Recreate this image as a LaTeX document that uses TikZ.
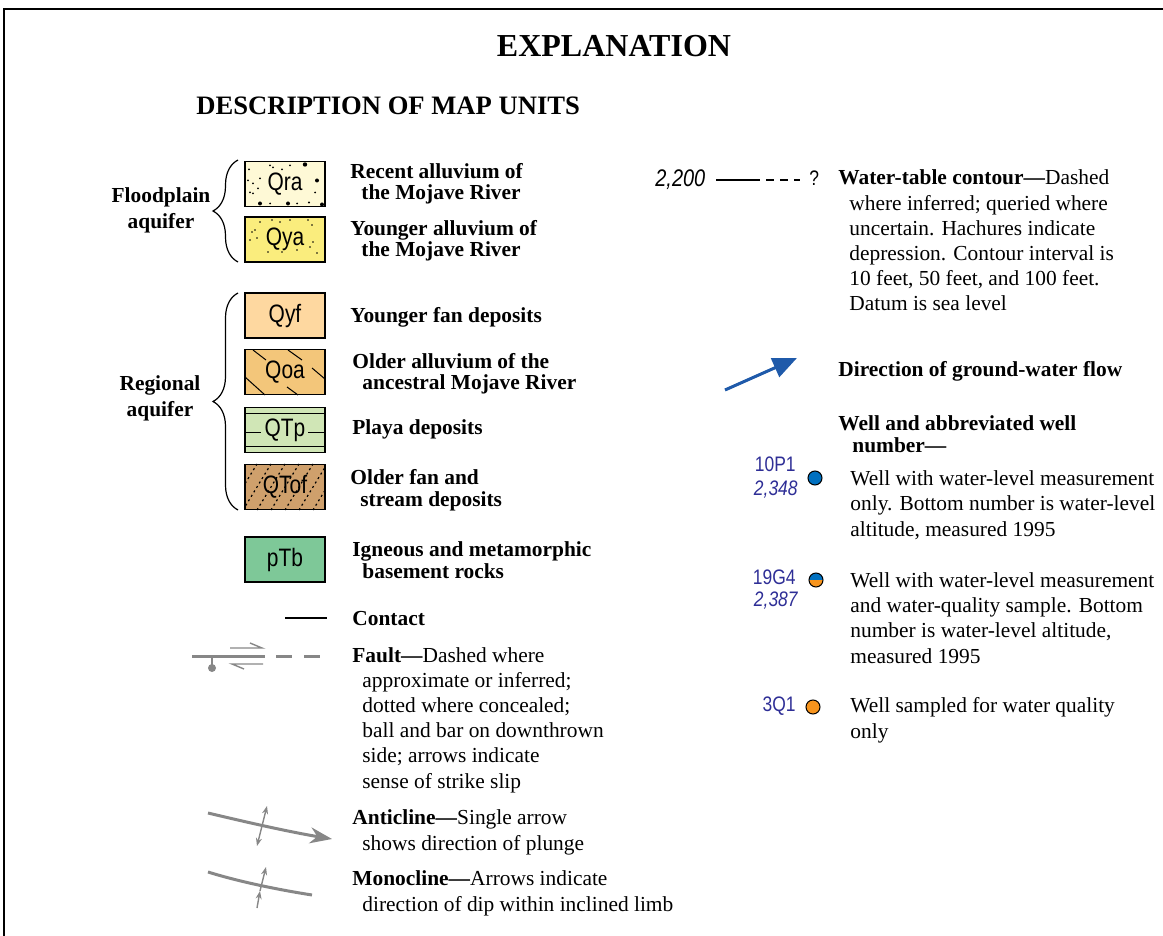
\documentclass[tikz,border=0pt]{standalone}
\usepackage{fontspec}
\setmainfont{Liberation Serif}
\newfontfamily\narrowsans[FakeStretch=0.83]{Liberation Sans}
\usetikzlibrary{arrows.meta,decorations.pathreplacing,positioning}

\definecolor{qracol}{RGB}{254,249,214}
\definecolor{qyacol}{RGB}{250,237,125}
\definecolor{qyfcol}{RGB}{254,216,160}
\definecolor{qoacol}{RGB}{243,198,122}
\definecolor{qtpcol}{RGB}{208,230,182}
\definecolor{qtofcol}{RGB}{207,160,108}
\definecolor{ptbcol}{RGB}{126,200,152}
\definecolor{faultgray}{RGB}{135,135,135}
\definecolor{flowblue}{RGB}{31,90,170}
\definecolor{wellblue}{RGB}{0,112,192}
\definecolor{wellorange}{RGB}{247,148,29}
\definecolor{numblue}{RGB}{46,46,150}

\tikzstyle{unit}=[draw, line width=0.6pt, minimum width=40pt, minimum height=22.5pt, inner sep=0pt, font=\fontsize{12.6}{13}\narrowsans]
\tikzstyle{unitname}=[anchor=base west, align=left, inner sep=0pt, font=\fontsize{10.7}{10.8}\selectfont\bfseries]
\tikzstyle{expl}=[anchor=base west, align=left, inner sep=0pt, font=\fontsize{10.7}{12.6}\selectfont]
\tikzstyle{wellnum}=[anchor=base east, inner sep=0pt, text=numblue, font=\fontsize{10.5}{11}\narrowsans]
\tikzstyle{well}=[circle, draw, line width=0.5pt, minimum size=7pt, inner sep=0pt]
\tikzstyle{graysym}=[faultgray, line width=1.5pt]
\tikzstyle{thinsym}=[faultgray, line width=0.7pt]
\tikzstyle{bracket}=[decorate, decoration={brace, amplitude=12.5pt}, line width=0.6pt]

\begin{document}
\begin{tikzpicture}[x=0.5pt, y=-0.5pt]
    \useasboundingbox (0,0) rectangle (1163,936);
    \draw[line width=0.8pt] (4,936) -- (4,9) -- (1163,9);

    \node[font=\fontsize{16}{18}\selectfont\bfseries] (title) at (614,46) {EXPLANATION};
    \node[anchor=base west, inner sep=0pt, font=\fontsize{13.3}{15}\selectfont\bfseries] (units) at (196,115) {DESCRIPTION OF MAP UNITS};

    % map units
    \node[unit, fill=qracol] (qra) at (285,184) {Qra};
    \node[unit, fill=qyacol] (qya) at (285,239.5) {Qya};
    \node[unit, fill=qyfcol] (qyf) at (285,315.5) {Qyf};
    \node[unit, fill=qoacol] (qoa) at (285,372) {Qoa};
    \node[unit, fill=qtpcol] (qtp) at (285,430) {QTp};
    \node[unit, fill=qtofcol] (qtof) at (285,487) {QTof};
    \node[unit, fill=ptbcol] (ptb) at (285,559.5) {pTb};

    % patterns
    \begin{scope}
        \clip (qra.north west) rectangle (qra.south east);
        \foreach \dx/\dy/\r in {3/19/0.5, 8/22/0.5, 15/17/0.5, 25/4/0.5, 28/6/0.5, 45/4/0.5, 60/3/1.1, 5/31/0.5, 8/32/0.5,
            13/27/0.5, 15/42/1, 25/42/0.5, 43/42/1, 52/42/0.5, 64/41/0.6, 77/43/1, 72/19/1, 70/31/0.5, 4/8/0.5, 37/8/0.5}
            \fill (245+\dx,161.5+\dy) circle (\r pt);
    \end{scope}
    \begin{scope}
        \clip (qya.north west) rectangle (qya.south east);
        \foreach \dx/\dy in {7/15, 10/13, 15/5, 27/3, 35/5, 45/3, 63/3, 67/8, 5/23, 12/21, 23/35, 37/35, 52/33, 65/30, 68/25, 72/36}
            \fill (245+\dx,217+\dy) circle (0.45pt);
    \end{scope}
    \begin{scope}[line width=0.5pt]
        \clip (qoa.north west) rectangle (qoa.south east);
        \draw (253,350) -- (266,360) (288,350) -- (302,360) (245,377) -- (265,395) (312,368) -- (325,379) (287,387) -- (298,395);
    \end{scope}
    \begin{scope}[line width=0.5pt]
        \draw (245,414) -- (325,414) (245,447) -- (325,447) (245,433) -- (261,433) (308,433) -- (325,433);
    \end{scope}
    \begin{scope}[line width=0.6pt]
        \clip (qtof.north west) rectangle (qtof.south east);
        \foreach \s in {215,229,...,335}
            \draw[dash pattern=on 1pt off 1.6pt] (\s,510) -- ++(28,-46);
    \end{scope}

    % aquifer groups
    \draw[bracket] (238,262) -- (238,160);
    \draw[bracket] (238,510) -- (238,293);
    \node[align=center, font=\fontsize{10.7}{13}\selectfont\bfseries] (flood) at (161,210) {Floodplain\\aquifer};
    \node[align=center, font=\fontsize{10.7}{13}\selectfont\bfseries] (regional) at (160,398) {Regional\\aquifer};

    \node[unitname] (qratext) at (350,200) {Recent alluvium of\\\hspace*{5.5pt}the Mojave River};
    \node[unitname] (qyatext) at (350,257) {Younger alluvium of\\\hspace*{5.5pt}the Mojave River};
    \node[unitname] (qyftext) at (350,323) {Younger fan deposits};
    \node[unitname] (qoatext) at (352,390) {Older alluvium of the\\\hspace*{5pt}ancestral Mojave River};
    \node[unitname] (qtptext) at (352,435) {Playa deposits};
    \node[unitname] (qtoftext) at (350,506) {Older fan and\\\hspace*{5pt}stream deposits};
    \node[unitname] (ptbtext) at (352,578) {Igneous and metamorphic\\\hspace*{5pt}basement rocks};

    % line symbols
    \coordinate (contact1) at (285,618);
    \coordinate (contact2) at (327,618);
    \draw[line width=0.6pt] (contact1) -- (contact2);
    \node[unitname] (contacttext) at (352,625) {Contact};

    \coordinate (fault1) at (192,656);
    \coordinate (fault2) at (265,656);
    \coordinate (fault3) at (276,656);
    \coordinate (fault4) at (322,656);
    \coordinate (ball) at (212,668);
    \draw[graysym] (fault1) -- (fault2);
    \draw[graysym, dash pattern=on 8pt off 6pt] (fault3) -- (fault4);
    \draw[thinsym] (212,656) -- (ball);
    \fill[faultgray] (ball) circle (2pt);
    \draw[thinsym] (230,648) -- (262,648) -- (250,643);
    \draw[thinsym] (263,664) -- (232,664) -- (244,669);
    \node[expl] (faulttext) at (352,788) {\textbf{Fault---}Dashed where\\
        \hspace*{5pt}approximate or inferred;\\
        \hspace*{5pt}dotted where concealed;\\
        \hspace*{5pt}ball and bar on downthrown\\
        \hspace*{5pt}side; arrows indicate\\
        \hspace*{5pt}sense of strike slip};

    \draw[graysym, -{Stealth[length=11pt,width=8pt]}] (208,813) .. controls (250,823) and (290,832) .. (332,839);
    \draw[thinsym, {Stealth[length=4pt,width=3pt]}-{Stealth[length=4pt,width=3pt]}] (257,846) -- (267,806);
    \node[expl] (anticline) at (352,850) {\textbf{Anticline---}Single arrow\\\hspace*{5pt}shows direction of plunge};

    \draw[graysym] (208,872) .. controls (240,882) and (280,890) .. (312,895);
    \draw[thinsym, -{Stealth[length=4pt,width=3pt]}] (257,908) -- (260,891);
    \draw[thinsym, -{Stealth[length=4pt,width=3pt]}] (260,891) -- (266,867);
    \node[expl] (monocline) at (352,911) {\textbf{Monocline---}Arrows indicate\\\hspace*{5pt}direction of dip within inclined limb};

    % right column
    \node[anchor=base west, inner sep=0pt, font=\fontsize{12}{13}\narrowsans\itshape] (v2200) at (655,187) {2,200};
    \coordinate (contour1) at (716,180);
    \coordinate (contour2) at (760,180);
    \coordinate (contour3) at (766,180);
    \coordinate (contour4) at (800,180);
    \draw[line width=0.8pt] (contour1) -- (contour2);
    \draw[line width=0.8pt, dash pattern=on 4pt off 3pt] (contour3) -- (contour4);
    \node[anchor=base west, inner sep=0pt, font=\fontsize{10.5}{11}\narrowsans] (query) at (809,186) {?};
    \node[expl] (contourtext) at (838,311) {\textbf{Water-table contour---}Dashed\\
        \hspace*{5.5pt}where inferred; queried where\\
        \hspace*{5.5pt}uncertain. Hachures indicate\\
        \hspace*{5.5pt}depression. Contour interval is\\
        \hspace*{5.5pt}10 feet, 50 feet, and 100 feet.\\
        \hspace*{5.5pt}Datum is sea level};

    \coordinate (flowtail) at (725,390);
    \coordinate (flowhead) at (797,358);
    \draw[flowblue, line width=1.5pt, -{Triangle[length=12pt,width=10pt]}] (flowtail) -- (flowhead);
    \node[unitname] (flowtext) at (838,377) {Direction of ground-water flow};

    \node[unitname] (welltitle) at (838,452) {Well and abbreviated well\\\hspace*{7pt}number---};

    \node[well, fill=wellblue] (w10p1) at (815,478) {};
    \node[wellnum] (n10p1) at (796,472) {10P1};
    \node[wellnum, font=\fontsize{10.5}{11}\narrowsans\itshape] (a10p1) at (798,495) {2,348};
    \node[expl] (w10p1text) at (850,536) {Well with water-level measurement\\only. Bottom number is water-level\\altitude, measured 1995};

    \node[well, fill=wellblue, path picture={
        \fill[wellorange] (path picture bounding box.west) rectangle (path picture bounding box.south east);}] (w19g4) at (816,580) {};
    \node[wellnum] (n19g4) at (796,584) {19G4};
    \node[wellnum, font=\fontsize{10.5}{11}\narrowsans\itshape] (a19g4) at (798,606) {2,387};
    \node[expl] (w19g4text) at (850,663) {Well with water-level measurement\\and water-quality sample. Bottom\\number is water-level altitude,\\measured 1995};

    \node[well, fill=wellorange] (w3q1) at (813,707) {};
    \node[wellnum] (n3q1) at (796,711) {3Q1};
    \node[expl] (w3q1text) at (850,738) {Well sampled for water quality\\only};
\end{tikzpicture}
\end{document}
